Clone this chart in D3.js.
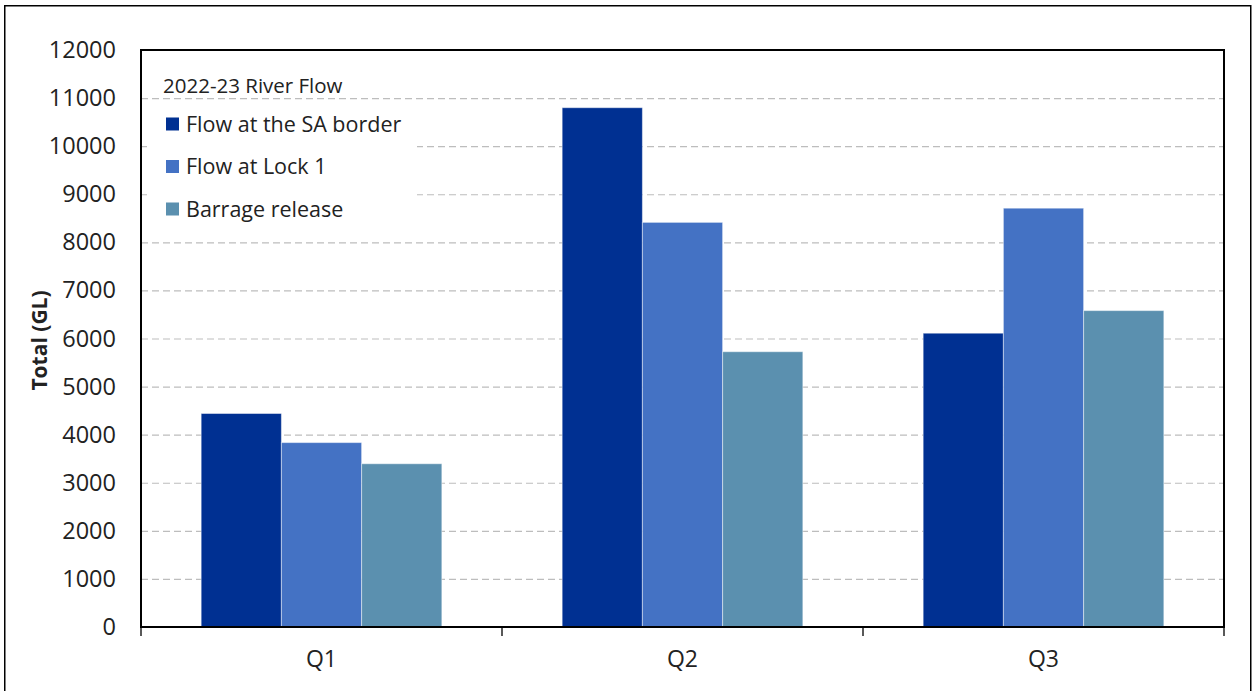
<!DOCTYPE html>
<html>
<head>
<meta charset="utf-8">
<script src="https://cdn.jsdelivr.net/npm/d3@7"></script>
<style>
  html, body { margin: 0; padding: 0; background: #fff; }
  svg { display: block; font-family: "Open Sans", sans-serif; }
</style>
</head>
<body>
<svg id="chart" width="1260" height="691"></svg>
<script>
const categories = ["Q1", "Q2", "Q3"];
const seriesNames = ["Flow at the SA border", "Flow at Lock 1", "Barrage release"];
const seriesColors = ["#003092", "#4472C4", "#5B90AF"];
const borderFlow = [4440, 10800, 6110];
const lock1Flow = [3835, 8415, 8710];
const barrageRelease = [3395, 5725, 6580];
const yTicks = [0, 1000, 2000, 3000, 4000, 5000, 6000, 7000, 8000, 9000, 10000, 11000, 12000];
const legendTitle = "2022-23 River Flow";
const yTitle = "Total (GL)";

const seriesValues = [borderFlow, lock1Flow, barrageRelease];

const svg = d3.select("#chart");
const W = 1260, H = 691;
const plot = { left: 141, right: 1224, top: 50, bottom: 627 };

// outer frame
svg.append("rect")
  .attr("x", 4.75).attr("y", 5.75)
  .attr("width", 1246).attr("height", 700)
  .attr("fill", "#fff").attr("stroke", "#000").attr("stroke-width", 1.5);

const y = d3.scaleLinear().domain([0, 12000]).range([plot.bottom, plot.top]);
const x0 = d3.scaleBand().domain(categories).range([plot.left, plot.right]).padding(0);
const bw = x0.bandwidth();
const x1 = d3.scaleBand().domain(seriesNames).range([bw / 6, bw * 5 / 6]).padding(0);

// gridlines
svg.append("g")
  .selectAll("line")
  .data(yTicks.filter(t => t > 0 && t < 12000))
  .join("line")
  .attr("x1", plot.left).attr("x2", plot.right)
  .attr("y1", d => y(d) + 0.5).attr("y2", d => y(d) + 0.5)
  .attr("stroke", "#bdbdbd").attr("stroke-width", 1.2)
  .attr("stroke-dasharray", "7,4");

// bars
const groups = svg.append("g")
  .selectAll("g")
  .data(categories)
  .join("g")
  .attr("transform", c => `translate(${x0(c)},0)`);

groups.selectAll("rect")
  .data((c, ci) => seriesNames.map((s, si) => ({ s, si, v: seriesValues[si][ci] })))
  .join("rect")
  .attr("x", d => x1(d.s))
  .attr("width", x1.bandwidth())
  .attr("y", d => y(d.v))
  .attr("height", d => y(0) - y(d.v))
  .attr("fill", d => seriesColors[d.si])
  .attr("stroke", "rgba(255,255,255,0.45)")
  .attr("stroke-width", 1);

// legend background
svg.append("rect")
  .attr("x", 147).attr("y", 103)
  .attr("width", 270).attr("height", 129)
  .attr("fill", "#fff");

svg.append("text")
  .attr("x", 163).attr("y", 93)
  .attr("font-size", 20.5).attr("fill", "#222")
  .text(legendTitle);

const leg = svg.append("g")
  .selectAll("g")
  .data(seriesNames)
  .join("g")
  .attr("transform", (d, i) => `translate(166, ${131.5 + i * 42.5})`);
leg.append("rect")
  .attr("x", 0).attr("y", -14).attr("width", 13).attr("height", 13)
  .attr("fill", (d, i) => seriesColors[i]);
leg.append("text")
  .attr("x", 20).attr("y", 0)
  .attr("font-size", 21.5).attr("fill", "#222")
  .text(d => d);

// y axis
const yAxis = d3.axisLeft(y).tickValues(yTicks).tickSize(0).tickPadding(25).tickFormat(d3.format("d"));
const gy = svg.append("g").attr("transform", `translate(${plot.left},0)`).call(yAxis);
gy.select(".domain").remove();
gy.selectAll("text").attr("font-size", 23.5).attr("fill", "#222")
  .attr("font-family", "'Open Sans', sans-serif");

// x axis
const xTickPositions = [plot.left, ...categories.map(c => x0(c) + bw)];
const xAxis = d3.axisBottom(x0).tickSize(0).tickPadding(24);
const gx = svg.append("g").attr("transform", `translate(0,${plot.bottom})`).call(xAxis);
gx.select(".domain").remove();
gx.selectAll("text").attr("font-size", 23).attr("fill", "#222")
  .attr("font-family", "'Open Sans', sans-serif");

svg.append("g").selectAll("line")
  .data(xTickPositions)
  .join("line")
  .attr("x1", d => d).attr("x2", d => d)
  .attr("y1", plot.bottom).attr("y2", plot.bottom + 9)
  .attr("stroke", "#222").attr("stroke-width", 1.5);

// plot border
svg.append("rect")
  .attr("x", plot.left).attr("y", plot.top)
  .attr("width", plot.right - plot.left).attr("height", plot.bottom - plot.top)
  .attr("fill", "none").attr("stroke", "#000").attr("stroke-width", 2);

// y title
svg.append("text")
  .attr("transform", `translate(47,${(plot.top + plot.bottom) / 2 + 2}) rotate(-90)`)
  .attr("text-anchor", "middle")
  .attr("font-size", 21).attr("font-weight", "bold").attr("fill", "#222")
  .text(yTitle);
</script>
</body>
</html>
